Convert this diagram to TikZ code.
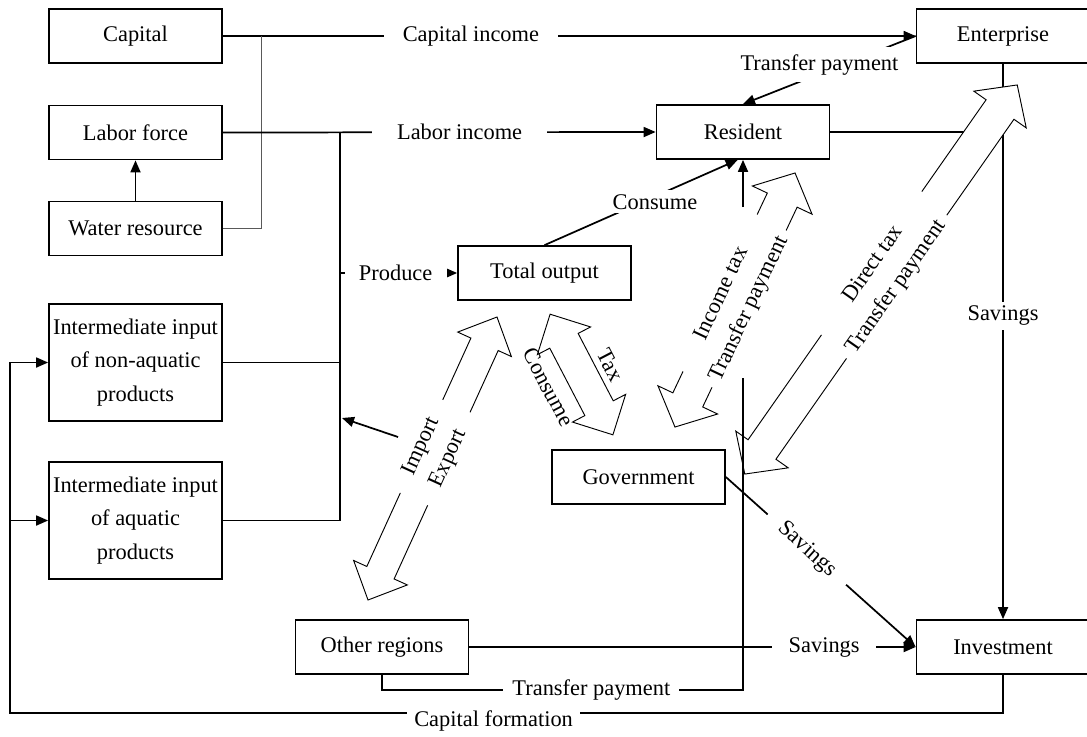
\documentclass[tikz,border=0pt]{standalone}
\usepackage{fontspec}
\setmainfont{Liberation Serif}
\usetikzlibrary{arrows.meta,calc}
\tikzset{
  box/.style={draw, line width=1.3pt, fill=white, minimum width=129.75pt, minimum height=40.5pt, inner sep=0pt, align=center},
  tallbox/.style={box, minimum height=87.75pt},
  conn/.style={line width=1.3pt},
  arr/.style={conn, -{Triangle[length=9pt,width=7.5pt]}},
  thinline/.style={line width=0.6pt, draw=black!65},
  lbl/.style={fill=white, inner xsep=0pt, inner ysep=2pt},
  fat/.style={draw, fill=white, line width=0.7pt, line join=miter},
  fatlbl/.style={fill=white, inner xsep=0pt, inner ysep=1pt}
}
\newcommand{\fatshape}[3]{%
  \draw[fat] (-#1,0) -- ({-#1+30},#3) -- ({-#1+30},#2) -- ({#1-30},#2) -- ({#1-30},#3) -- (#1,0)
    -- ({#1-30},-#3) -- ({#1-30},-#2) -- ({-#1+30},-#2) -- ({-#1+30},-#3) -- cycle;}
\begin{document}
\begin{tikzpicture}[x=0.75pt,y=-0.75pt,font=\fontsize{16.8pt}{25pt}\selectfont]
\useasboundingbox (0,0) rectangle (1087,736);
\clip (0,0) rectangle (1087,736);

% boxes
\node[box] (capital) at (135.5,36) {Capital};
\node[box] (labor) at (135.5,132.5) {Labor force};
\node[box] (water) at (135.5,228.5) {Water resource};
\node[tallbox] (nonaq) at (135.5,362.5) {Intermediate input\\of non-aquatic\\products};
\node[tallbox] (aq) at (135.5,520.5) {Intermediate input\\of aquatic\\products};
\node[box] (total) at (544.5,273) {Total output};
\node[box] (resident) at (743,132) {Resident};
\node[box] (enterprise) at (1003,36) {Enterprise};
\node[box] (government) at (638.5,477) {Government};
\node[box] (others) at (382,647) {Other regions};
\node[box] (investment) at (1003,647) {Investment};

% helper coordinates
\coordinate (j1) at (261,36);
\coordinate (busT) at (340,132.5);
\coordinate (busB) at (340,520.5);
\coordinate (impS) at (398,437);
\coordinate (impE) at (342,418);
\coordinate (tpL) at (382,690);
\coordinate (tpR) at (743,690);
\coordinate (tpT) at (743,378);
\coordinate (tpU) at (743,207);
\coordinate (cfR) at (1003,713);
\coordinate (cfL) at (10,713);

% lines lying under the fat arrows
\draw[arr] (enterprise.south) -- node[lbl, pos=0.454, inner ysep=3pt] {Savings} (investment.north);
\draw[conn] (resident.east) -- (resident.east -| enterprise.south);

% fat double arrows
\begin{scope}[shift={(881,279.5)}, rotate=55]
  \fatshape{237.5}{17}{32}
  \node[fatlbl, minimum width=131pt, rotate=55] at (8,-17) {Direct tax};
  \node[fatlbl, minimum width=131pt, rotate=55] at (3,17) {Transfer payment};
\end{scope}
\begin{scope}[shift={(735,300)}, rotate=64.7]
  \fatshape{140.5}{16.5}{33}
  \node[fatlbl, minimum width=130pt, rotate=64.7] at (0,-16.5) {Income tax};
  \node[fatlbl, minimum width=130pt, rotate=64.7] at (-2,16.5) {Transfer payment};
\end{scope}
\begin{scope}[shift={(432.5,458.5)}, rotate=65.5]
  \fatshape{155.5}{15}{29.5}
  \node[fatlbl, minimum width=76.5pt, rotate=65.5] at (6.5,-15) {Import};
  \node[fatlbl, minimum width=76.5pt, rotate=65.5] at (6.5,15) {Export};
\end{scope}
\begin{scope}[shift={(581.5,374.5)}, rotate=-62.5]
  \fatshape{68}{16}{30}
  \node[rotate=-62.5, inner sep=0pt] at (-4,35) {Consume};
  \node[rotate=-62.5, inner sep=0pt] at (5,-30) {Tax};
\end{scope}

% connectors
\draw[arr] (capital.east) -- node[lbl, pos=0.358, minimum width=131pt] {Capital income} (enterprise.west);
\draw[thinline] (water.east) -| (j1);
\draw[arr] (labor.east) -- node[lbl, pos=0.547, minimum width=131pt] {Labor income} (resident.west);
\draw[arr] (water.north) -- (labor.south);
\draw[conn] (busT) -- (busB);
\draw[conn] (nonaq.east) -- (nonaq.east -| busT);
\draw[conn] (aq.east) -- (aq.east -| busT);
\draw[arr] (total.west -| busT) -- node[lbl, pos=0.475, minimum width=76.5pt] {Produce} (total.west);
\draw[arr] (impS) -- (impE);
\draw[arr] (enterprise.west) -- node[lbl, pos=0.557, yshift=7pt, inner ysep=5.5pt, inner xsep=1pt] {Transfer payment} (resident.north);
\draw[arr] (total.north) -- node[lbl, pos=0.572, yshift=-4pt, inner ysep=3pt] {Consume} ([xshift=-4pt]resident.south);
\draw[arr] (others.south) -- (tpL) -- node[lbl, pos=0.58, minimum width=132pt] {Transfer payment} (tpR) -- (tpT) (tpU) -- (resident.south);
\draw[arr] (others.east) -- node[lbl, pos=0.795, minimum width=78pt] {Savings} (investment.west);
\draw[arr] (government.east) -- node[lbl, sloped, pos=0.427, minimum width=78.75pt] {Savings} (investment.west);
\draw[arr] (investment.south) -- (cfR) -- node[lbl, pos=0.513, yshift=-6pt, minimum width=130pt] {Capital formation} (cfL) |- (nonaq.west);
\draw[arr] (cfL |- aq.west) -- (aq.west);
\end{tikzpicture}
\end{document}
